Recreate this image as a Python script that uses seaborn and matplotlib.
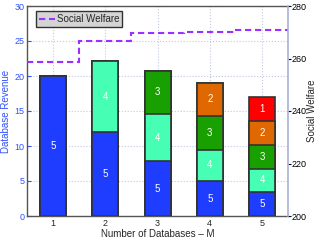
import numpy as np
import pandas as pd
import matplotlib
matplotlib.use("Agg")
import matplotlib.pyplot as plt
import seaborn as sns

# Revenue segments per number of databases (bottom segment first: 5, 4, 3, 2, 1)
databases = ["1", "2", "3", "4", "5"]
seg5 = [20.0, 12.0, 7.8, 4.95, 3.5]
seg4 = [0.0, 10.1, 6.8, 4.55, 3.2]
seg3 = [0.0, 0.0, 6.1, 4.8, 3.5]
seg2 = [0.0, 0.0, 0.0, 4.7, 3.4]
seg1 = [0.0, 0.0, 0.0, 0.0, 3.4]
seg_names = ["5", "4", "3", "2", "1"]
welfare = [258.5, 266.5, 269.8, 270.1, 270.8]

colors = {"5": "#1f3dff", "4": "#46ffb4", "3": "#18a000", "2": "#e06800", "1": "#ff0000"}

sns.set_style("white")
plt.rcParams["font.family"] = ["Liberation Sans", "DejaVu Sans"]
plt.rcParams["font.size"] = 7

fig = plt.figure(figsize=(3.18, 2.4), dpi=100)
ax = fig.add_axes([0.085, 0.1, 0.821, 0.875])

segs = [seg5, seg4, seg3, seg2, seg1]
cum = np.cumsum(np.array(segs), axis=0)

# draw cumulative totals from the top layer down so lower layers overlay
for i in reversed(range(len(segs))):
    df = pd.DataFrame({"M": databases, "rev": cum[i]})
    sns.barplot(data=df, x="M", y="rev", color=colors[seg_names[i]],
                saturation=1, width=0.5, edgecolor="#333333", linewidth=1.2,
                ax=ax, zorder=2)

for i, seg in enumerate(segs):
    for j, v in enumerate(seg):
        if v > 0:
            ax.text(j, cum[i][j] - v / 2, seg_names[i], color="white",
                    ha="center", va="center", fontsize=7, zorder=3)

ax.set_xlim(-0.5, 4.5)
ax.set_ylim(0, 30)
ax.set_yticks(range(0, 31, 5))
ax.set_xlabel("Number of Databases \u2013 M", labelpad=1)
ax.set_ylabel("Database Revenue", color="#3050ff", labelpad=2)
ax.tick_params(axis="y", colors="#3050ff", direction="in", length=3, pad=2,
               labelsize=6.5)
ax.tick_params(axis="x", direction="in", length=3, pad=2, labelsize=6.5)
ax.grid(True, linestyle=":", color="#c0c8e0", linewidth=0.8, zorder=0)
ax.set_axisbelow(True)
for s in ["left", "top", "bottom"]:
    ax.spines[s].set_color("#555555")
    ax.spines[s].set_linewidth(1.0)
ax.spines["right"].set_visible(False)

ax2 = ax.twinx()
edges = np.arange(len(welfare) + 1) - 0.5
ax2.stairs(welfare, edges, baseline=None, linestyle=(0, (3, 1.8)), color="#9b30ff",
           linewidth=1.5, label="Social Welfare")
ax2.set_ylim(200, 280)
ax2.set_yticks(range(200, 281, 20))
ax2.set_ylabel("Social Welfare")
ax2.yaxis.set_label_coords(1.072, 0.5)
ax2.tick_params(axis="y", direction="out", length=2, pad=0.5, colors="black",
                labelsize=6.5)
ax2.spines["right"].set_color("#a8b0d8")
ax2.spines["right"].set_linewidth(1.2)
for s in ["left", "top", "bottom"]:
    ax2.spines[s].set_visible(False)

leg = ax2.legend(loc="upper left", fontsize=7, frameon=True, fancybox=False,
                 handlelength=1.6, borderpad=0.3, handletextpad=0.2,
                 borderaxespad=0, bbox_to_anchor=(0.035, 0.975))
leg.get_frame().set_facecolor("#d4d4d4")
leg.get_frame().set_edgecolor("#333333")
leg.get_frame().set_alpha(1)

fig.savefig("out.png", dpi=100)
